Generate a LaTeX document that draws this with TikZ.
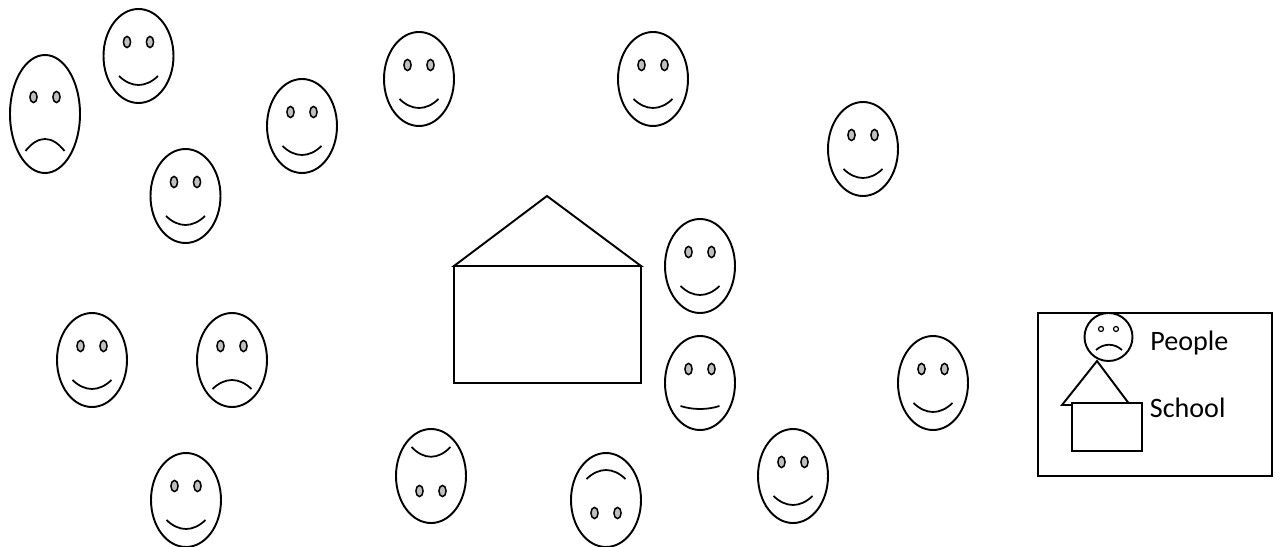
\documentclass[tikz,border=0pt]{standalone}
\usepackage{fontspec}
\setmainfont{Carlito}
\usetikzlibrary{positioning}
\tikzset{
  outline/.style={draw=black, line width=1.1pt},
  headshape/.style={outline, fill=white},
  eyeshape/.style={draw=black, line width=0.85pt, fill=black!25},
  mouthline/.style={draw=black, line width=1.0pt},
  legendtext/.style={inner sep=0pt, anchor=base west, font=\fontsize{16}{18}\selectfont}
}
\newcommand{\facehead}[2]{\path[headshape] (0,0) ellipse (35 and #1);
  \path[eyeshape] (-11.5,#2) ellipse (3.6 and 5.6);
  \path[eyeshape] (11.5,#2) ellipse (3.6 and 5.6);}

\begin{document}
\begin{tikzpicture}[x=0.02cm, y=-0.02cm]
\useasboundingbox (0,0) rectangle (1281,547);

% happy faces
\foreach \cx/\cy in {138.5/56, 185.5/196, 302/126, 419/79, 653/79, 863/149,
                     700/266, 933/383, 793/476, 92/360, 186/500} {
  \begin{scope}[shift={(\cx,\cy)}]
    \facehead{47}{-14}
    \path[mouthline] (-19.5,20) .. controls (-7,32) and (7,32) .. (19.5,20);
  \end{scope}
}

% sad faces
\begin{scope}[shift={(45,114)}]
  \facehead{59}{-17}
  \path[mouthline] (-19.5,37) .. controls (-7,21) and (7,21) .. (19.5,37);
\end{scope}
\begin{scope}[shift={(232,360)}]
  \facehead{47}{-14}
  \path[mouthline] (-19.5,29) .. controls (-7,17) and (7,17) .. (19.5,29);
\end{scope}

% flat mouth
\begin{scope}[shift={(700,383)}]
  \facehead{47}{-14}
  \path[mouthline] (-19.5,23) .. controls (-7,27) and (7,27) .. (19.5,23);
\end{scope}

% eyes below the mouth
\begin{scope}[shift={(431,476)}]
  \facehead{47}{15}
  \path[mouthline] (-19.5,-29) .. controls (-7,-16) and (7,-16) .. (19.5,-29);
\end{scope}
\begin{scope}[shift={(606,500)}]
  \facehead{47}{13}
  \path[mouthline] (-19.5,-21) .. controls (-7,-33) and (7,-33) .. (19.5,-21);
\end{scope}

% school
\draw[outline, line join=miter] (454,266) -- (547,196) -- (641,266) -- cycle;
\draw[outline] (454,266) rectangle (641,383);

% legend
\draw[outline] (1038,313) rectangle (1272,476);
\path[headshape] (1108.5,337) circle (24);
\path[eyeshape, line width=0.7pt, fill=white] (1101,329) circle (2.5);
\path[eyeshape, line width=0.7pt, fill=white] (1116,329) circle (2.5);
\path[mouthline] (1096,350) .. controls (1104,343) and (1114,343) .. (1122,350);
\draw[outline] (1062,405) -- (1097,361) -- (1130,405) -- cycle;
\path[headshape] (1072,403) rectangle (1142,451);
\node[legendtext] (peoplelabel) at (1150,350) {People};
\node[legendtext] (schoollabel) at (1149.5,417) {School};

\end{tikzpicture}
\end{document}
